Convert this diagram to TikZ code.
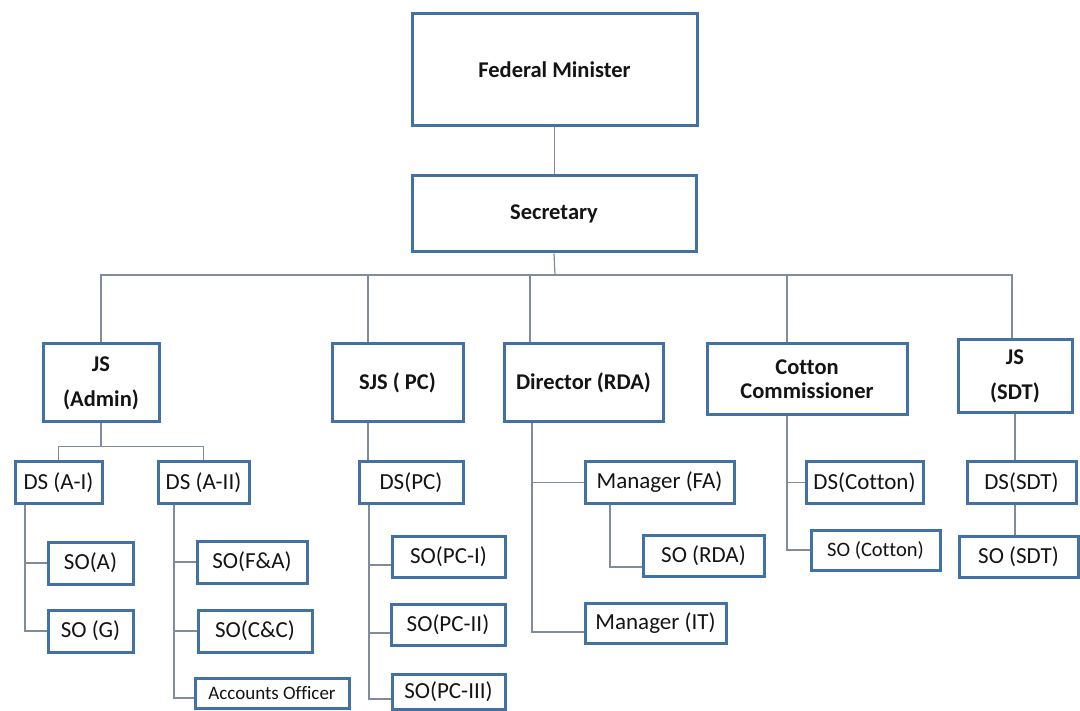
\documentclass[tikz,border=0pt]{standalone}
\usepackage{fontspec}
\setmainfont{Carlito}[RawFeature=-liga]
\definecolor{boxblue}{RGB}{65,113,165}
\definecolor{linegray}{RGB}{128,140,158}
\definecolor{txt}{RGB}{20,20,20}
\tikzset{
  box/.style={draw=boxblue, line width=3pt, fill=white, inner sep=0pt, text=txt, align=center},
  topbox/.style={box, font=\bfseries\fontsize{22.5}{35}\selectfont},
  subbox/.style={box, font=\fontsize{23}{26}\selectfont},
  conn/.style={draw=linegray, line width=1.2pt}
}
\begin{document}
\begin{tikzpicture}[x=1pt,y=-1pt]
\useasboundingbox[fill=white] (0,0) rectangle (1080,711);
% top level boxes
\node[topbox, minimum width=285pt, minimum height=112pt] (FM) at (554.5,70) {Federal Minister};
\node[topbox, minimum width=284pt, minimum height=76pt] (Sec) at (554,214) {Secretary};
\node[topbox, minimum width=116pt, minimum height=78pt] (JSA) at (101,383) {JS\\(Admin)};
\node[topbox, minimum width=131pt, minimum height=78pt] (SJS) at (397.5,383) {SJS ( PC)};
\node[topbox, minimum width=159pt, minimum height=78pt] (Dir) at (583.5,383) {Director (RDA)};
\node[topbox, font=\bfseries\fontsize{22.5}{24}\selectfont, minimum width=200pt, minimum height=71pt] (Cot) at (807,379.5) {Cotton\\Commissioner};
\node[topbox, minimum width=114pt, minimum height=73pt] (JSS) at (1015,376.5) {JS\\(SDT)};
% second level
\node[subbox, minimum width=87pt, minimum height=41pt] (DSA1) at (58.5,482.5) {DS (A-I)};
\node[subbox, minimum width=91pt, minimum height=41pt] (DSA2) at (203.5,482.5) {DS (A-II)};
\node[subbox, minimum width=85pt, minimum height=42pt] (SOA) at (90.5,563) {SO(A)};
\node[subbox, minimum width=85pt, minimum height=42pt] (SOG) at (90.5,631) {SO (G)};
\node[subbox, minimum width=110pt, minimum height=42pt] (SOFA) at (252,562) {SO(F\&A)};
\node[subbox, minimum width=114pt, minimum height=42pt] (SOCC) at (255,631) {SO(C\&C)};
\node[subbox, font=\fontsize{19}{22}\selectfont, minimum width=154pt, minimum height=30pt] (AO) at (272,693) {Accounts Officer};
\node[subbox, minimum width=104pt, minimum height=41pt] (DSPC) at (411,482.5) {DS(PC)};
\node[subbox, minimum width=113pt, minimum height=41pt] (PC1) at (448.5,556.5) {SO(PC-I)};
\node[subbox, minimum width=114pt, minimum height=41pt] (PC2) at (448,624.5) {SO(PC-II)};
\node[subbox, minimum width=113pt, minimum height=35pt] (PC3) at (448.5,691.5) {SO(PC-III)};
\node[subbox, minimum width=149pt, minimum height=41pt] (MFA) at (659.5,482.5) {Manager (FA)};
\node[subbox, minimum width=121pt, minimum height=41pt] (SORDA) at (703.5,555.5) {SO (RDA)};
\node[subbox, minimum width=141pt, minimum height=40pt] (MIT) at (655.5,623) {Manager (IT)};
\node[subbox, minimum width=117pt, minimum height=41pt] (DSC) at (864.5,482.5) {DS(Cotton)};
\node[subbox, font=\fontsize{20.5}{24}\selectfont, minimum width=129pt, minimum height=40pt] (SOC) at (875.5,550) {SO (Cotton)};
\node[subbox, minimum width=109pt, minimum height=41pt] (DSS) at (1021.5,482.5) {DS(SDT)};
\node[subbox, minimum width=119pt, minimum height=41pt] (SOS) at (1018.5,556.5) {SO (SDT)};
% connector coordinates
\coordinate (bus) at (555,275);
\coordinate (dSJS) at ([xshift=-29.5pt]SJS.north);
\coordinate (dDir) at ([xshift=-53.5pt]Dir.north);
\coordinate (dCot) at ([xshift=-20pt]Cot.north);
\coordinate (dJSS) at ([xshift=-3pt]JSS.north);
\coordinate (ja) at ([yshift=-23pt]JSA.south);
\coordinate (a1) at ([xshift=-33.5pt]DSA1.south);
\coordinate (a2) at ([xshift=-29.5pt]DSA2.south);
\coordinate (s1) at ([xshift=-29.5pt]SJS.south);
\coordinate (p1) at ([xshift=-42pt]DSPC.south);
\coordinate (r1) at ([xshift=-51.5pt]Dir.south);
\coordinate (m1) at ([xshift=-49.5pt]MFA.south);
\coordinate (c1) at ([xshift=-20pt]Cot.south);
\coordinate (wPC1) at ([yshift=-8.5pt]PC1.west);
\coordinate (wPC2) at ([yshift=-8.5pt]PC2.west);
\coordinate (wPC3) at ([yshift=-7.5pt]PC3.west);
\coordinate (wAO) at ([yshift=-5pt]AO.west);
\coordinate (wRDA) at ([yshift=-11.5pt]SORDA.west);
\coordinate (wMIT) at ([yshift=-9pt]MIT.west);
% connectors
\draw[conn] (FM.south) -- (FM.south |- Sec.north);
\draw[conn] (Sec.south) -- (bus);
\draw[conn] (JSA.north) -- (JSA.north |- bus) -- (dJSS |- bus) -- (dJSS);
\draw[conn] (dSJS |- bus) -- (dSJS);
\draw[conn] (dDir |- bus) -- (dDir);
\draw[conn] (dCot |- bus) -- (dCot);
% JS (Admin)
\draw[conn] (JSA.south) -- (ja);
\draw[conn] (DSA1.north) |- (ja) -| (DSA2.north);
\draw[conn] (a1) |- (SOG.west);
\draw[conn] (a1 |- SOA.west) -- (SOA.west);
\draw[conn] (a2) |- (wAO);
\draw[conn] (a2 |- SOFA.west) -- (SOFA.west);
\draw[conn] (a2 |- SOCC.west) -- (SOCC.west);
% SJS
\draw[conn] (s1) -- (s1 |- DSPC.north);
\draw[conn] (p1) |- (wPC3);
\draw[conn] (p1 |- wPC1) -- (wPC1);
\draw[conn] (p1 |- wPC2) -- (wPC2);
% Director
\draw[conn] (r1) |- (wMIT);
\draw[conn] (r1 |- MFA.west) -- (MFA.west);
\draw[conn] (m1) |- (wRDA);
% Cotton
\draw[conn] (c1) |- (SOC.west);
\draw[conn] (c1 |- DSC.west) -- (DSC.west);
% JS (SDT)
\draw[conn] (JSS.south) -- (JSS.south |- DSS.north);
\draw[conn] (JSS.south |- DSS.south) -- (JSS.south |- SOS.north);
\end{tikzpicture}
\end{document}
